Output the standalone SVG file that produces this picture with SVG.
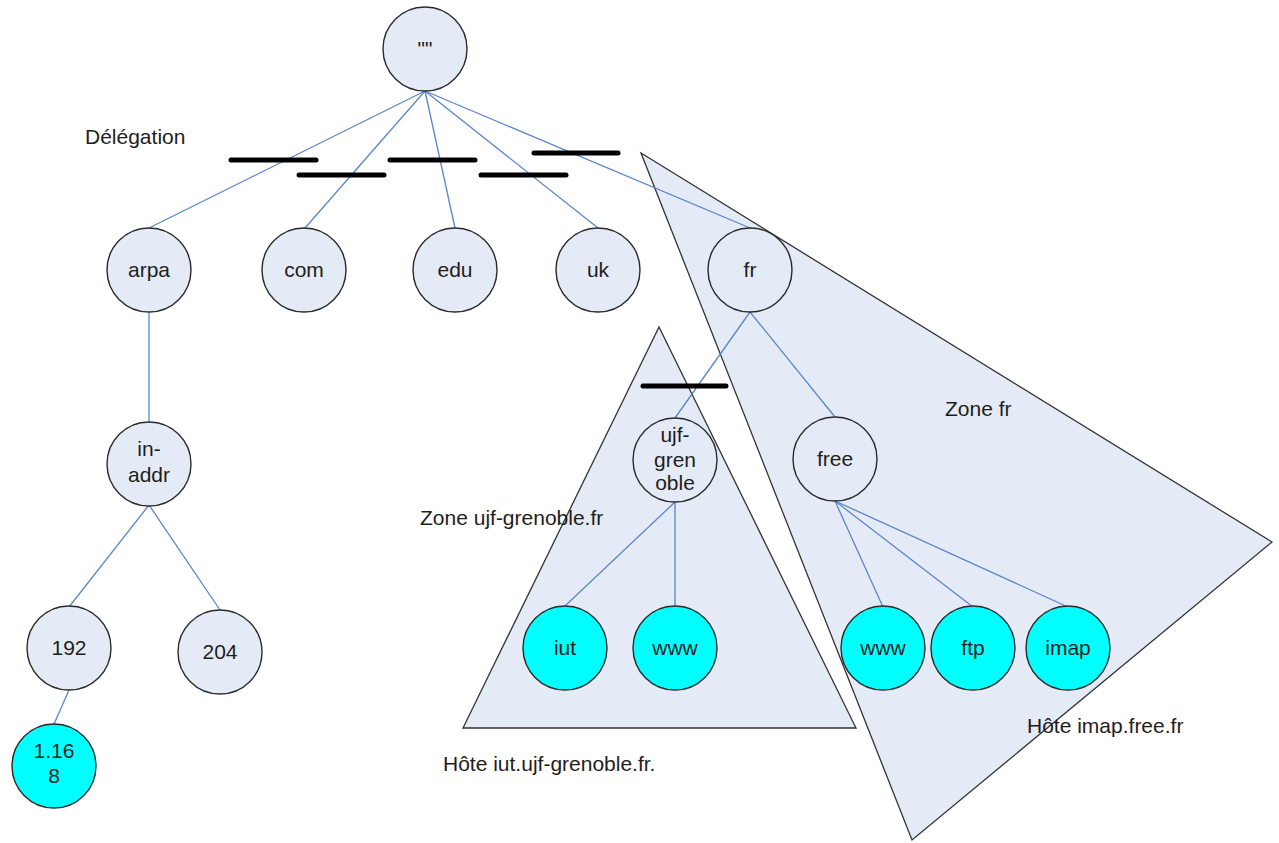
<svg xmlns="http://www.w3.org/2000/svg" width="1279" height="843" viewBox="0 0 1279 843">
  <style>
    .zone { fill: #e5ebf6; stroke: #333333; stroke-width: 1.3; stroke-linejoin: miter; }
    .edge { stroke: #5a86c8; stroke-width: 1.3; fill: none; }
    .cut { stroke: #000000; stroke-width: 5; stroke-linecap: round; }
    .node { fill: #e5ebf6; stroke: #2a2a2a; stroke-width: 1.4; }
    .host { fill: #00ffff; stroke: #2a2a2a; stroke-width: 1.4; }
    text { font-family: "Liberation Sans", Arial, sans-serif; font-size: 21px; fill: #1e1e1e; }
    .lbl { text-anchor: middle; }
  </style>

  <!-- zones -->
  <g id="zone-fr">
    <polygon class="zone" points="641,153 1272,542 912,840"/>
  </g>
  <g id="zone-ujf">
    <polygon class="zone" points="659,327 856,728 463,728"/>
  </g>

  <!-- tree edges -->
  <g id="connectors">
    <line class="edge" x1="425" y1="91" x2="149" y2="228"/>
    <line class="edge" x1="425" y1="91" x2="305" y2="228"/>
    <line class="edge" x1="425" y1="91" x2="455" y2="228"/>
    <line class="edge" x1="425" y1="91" x2="598" y2="228"/>
    <line class="edge" x1="425" y1="91" x2="750" y2="228"/>
    <line class="edge" x1="149" y1="312" x2="149" y2="422"/>
    <line class="edge" x1="149" y1="505" x2="69" y2="607"/>
    <line class="edge" x1="149" y1="505" x2="220" y2="610"/>
    <line class="edge" x1="69" y1="690" x2="54" y2="724"/>
    <line class="edge" x1="750" y1="312" x2="675" y2="418"/>
    <line class="edge" x1="750" y1="312" x2="835" y2="417"/>
    <line class="edge" x1="675" y1="502" x2="565" y2="606"/>
    <line class="edge" x1="675" y1="502" x2="675" y2="606"/>
    <line class="edge" x1="835" y1="501" x2="883" y2="607"/>
    <line class="edge" x1="835" y1="501" x2="973" y2="607"/>
    <line class="edge" x1="835" y1="501" x2="1068" y2="607"/>
  </g>

  <!-- delegation cuts -->
  <g id="cuts">
    <line class="cut" x1="231" y1="160" x2="316" y2="160"/>
    <line class="cut" x1="299" y1="175" x2="384" y2="175"/>
    <line class="cut" x1="390" y1="160" x2="475" y2="160"/>
    <line class="cut" x1="481" y1="175" x2="566" y2="175"/>
    <line class="cut" x1="534" y1="153" x2="618" y2="153"/>
    <line class="cut" x1="643" y1="386" x2="726" y2="386"/>
  </g>

  <!-- nodes -->
  <g id="root"><circle class="node" cx="425" cy="49" r="42"/><text class="lbl" x="425" y="56">""</text></g>
  <g id="arpa"><circle class="node" cx="149" cy="270" r="42"/><text class="lbl" x="149" y="277">arpa</text></g>
  <g id="com"><circle class="node" cx="304" cy="270" r="42"/><text class="lbl" x="304" y="277">com</text></g>
  <g id="edu"><circle class="node" cx="455" cy="270" r="42"/><text class="lbl" x="455" y="277">edu</text></g>
  <g id="uk"><circle class="node" cx="598" cy="270" r="42"/><text class="lbl" x="598" y="277">uk</text></g>
  <g id="fr"><circle class="node" cx="750" cy="270" r="42"/><text class="lbl" x="750" y="277">fr</text></g>
  <g id="in-addr"><circle class="node" cx="149" cy="464" r="42"/><text class="lbl" x="149" y="456">in-</text><text class="lbl" x="149" y="482">addr</text></g>
  <g id="n192"><circle class="node" cx="69" cy="648" r="42"/><text class="lbl" x="69" y="655">192</text></g>
  <g id="n204"><circle class="node" cx="220" cy="652" r="42"/><text class="lbl" x="220" y="659">204</text></g>
  <g id="n168"><circle class="host" cx="54" cy="766" r="42"/><text class="lbl" x="54" y="758">1.16</text><text class="lbl" x="54" y="783">8</text></g>
  <g id="ujf-grenoble"><circle class="node" cx="675" cy="460" r="42"/><text class="lbl" x="675" y="442">ujf-</text><text class="lbl" x="675" y="467">gren</text><text class="lbl" x="675" y="490">oble</text></g>
  <g id="free"><circle class="node" cx="835" cy="459" r="42"/><text class="lbl" x="835" y="466">free</text></g>
  <g id="iut"><circle class="host" cx="565" cy="648" r="42"/><text class="lbl" x="565" y="655">iut</text></g>
  <g id="www-ujf"><circle class="host" cx="675" cy="648" r="42"/><text class="lbl" x="675" y="655">www</text></g>
  <g id="www-free"><circle class="host" cx="883" cy="648" r="42"/><text class="lbl" x="883" y="655">www</text></g>
  <g id="ftp"><circle class="host" cx="973" cy="648" r="42"/><text class="lbl" x="973" y="655">ftp</text></g>
  <g id="imap"><circle class="host" cx="1068" cy="648" r="42"/><text class="lbl" x="1068" y="655">imap</text></g>

  <!-- annotations -->
  <g id="labels">
    <text x="85" y="144">Délégation</text>
    <text x="945" y="416">Zone fr</text>
    <text x="420" y="525">Zone ujf-grenoble.fr</text>
    <text x="443" y="771">Hôte iut.ujf-grenoble.fr.</text>
    <text x="1027" y="733">Hôte imap.free.fr</text>
  </g>
</svg>
